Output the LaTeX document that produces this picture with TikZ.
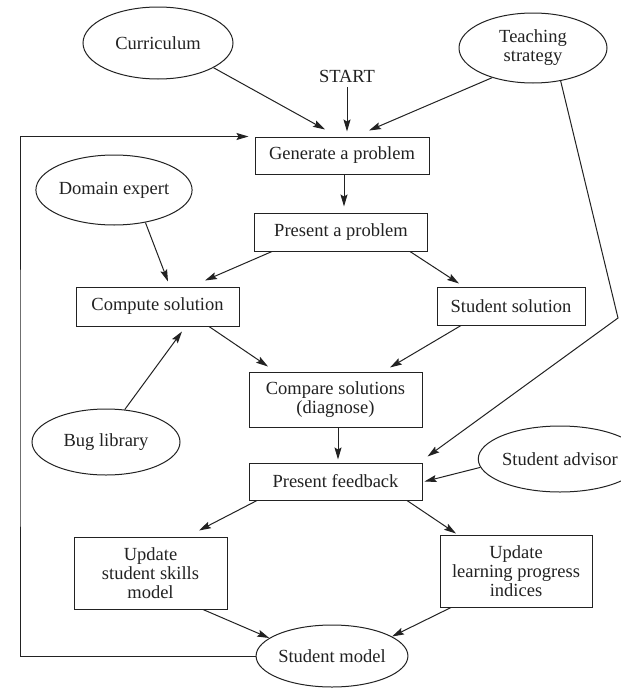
\documentclass[tikz,border=0pt]{standalone}
\usepackage{fontspec}
\setmainfont{Liberation Serif}
\usetikzlibrary{shapes.geometric,arrows.meta}
\definecolor{ink}{HTML}{222222}
\begin{document}
\begin{tikzpicture}[x=1pt,y=-1pt,
  every node/.style={text=ink, font=\fontsize{18.5}{19}\selectfont},
  box/.style={draw=ink, rectangle, inner sep=0pt, align=center, line width=1pt},
  oval/.style={draw=ink, ellipse, inner sep=0pt, align=center, line width=1pt},
  arr/.style={draw=ink, line width=1pt, -{Stealth[length=12pt,width=7pt,inset=2pt]}},
  plain/.style={draw=ink, line width=1pt}]
\fill[white] (0,0) rectangle (621,688);
\useasboundingbox (0,0) rectangle (621,688);

% process boxes
\node[box, minimum width=174pt, minimum height=37pt] (gen) at (342,155.5) {Generate a problem};
\node[box, minimum width=173pt, minimum height=38pt] (pres) at (341,232) {Present a problem};
\node[box, minimum width=163pt, minimum height=39pt] (comp) at (157.5,306.5) {Compute solution};
\node[box, minimum width=148pt, minimum height=38pt] (stud) at (511,306) {Student solution};
\node[box, minimum width=173pt, minimum height=55pt] (cmp) at (335.5,399.5) {Compare solutions\\(diagnose)};
\node[box, minimum width=173pt, minimum height=37pt] (fb) at (335.5,481.5) {Present feedback};
\node[box, minimum width=153pt, minimum height=72pt] (sk) at (150.5,573) {Update\\student skills\\model};
\node[box, minimum width=152pt, minimum height=72pt] (lp) at (516,571) {Update\\learning progress\\indices};

% knowledge sources
\node[oval, minimum width=150pt, minimum height=72pt] (cur) at (158,43) {Curriculum};
\node[oval, minimum width=148pt, minimum height=70pt] (teach) at (533,48) {Teaching\\strategy};
\node[oval, minimum width=149pt, minimum height=70pt] (dom) at (114,190) {Domain expert};
\node[oval, minimum width=148pt, minimum height=66pt] (bug) at (106,442) {Bug library};
\node[oval, minimum width=146pt, minimum height=66pt] (adv) at (560,459) {Student advisor};
\node[oval, minimum width=146pt, minimum height=62pt] (sm) at (332,656) {Student model};

\node[inner sep=0pt] (start) at (347,76) {START};

\coordinate (bend) at (618,318);
\coordinate (loopx) at (20,400);

% connectors
\draw[arr] (cur.-24) -- ([xshift=-17pt,yshift=7pt]gen.north);
\draw[arr] ([yshift=-5pt]start.south) -- ([xshift=5pt,yshift=5pt]gen.north);
\draw[arr] (teach.216) -- ([xshift=27pt,yshift=6pt]gen.north);
\draw[arr] ([xshift=2pt]gen.south) -- ([xshift=3pt,yshift=6pt]pres.north);
\draw[arr] ([xshift=-69pt]pres.south) -- ([xshift=47.5pt,yshift=6pt]comp.north);
\draw[arr] ([xshift=69pt]pres.south) -- ([xshift=-52pt,yshift=3pt]stud.north);
\draw[arr] (dom.-46) -- ([xshift=10.5pt,yshift=5pt]comp.north);
\draw[arr] (bug.60) -- ([xshift=24.5pt,yshift=-5pt]comp.south);
\draw[arr] ([xshift=51.5pt]comp.south) -- ([xshift=-67.5pt,yshift=5pt]cmp.north);
\draw[arr] ([xshift=-50pt]stud.south) -- ([xshift=54.5pt,yshift=4pt]cmp.north);
\draw[arr] ([xshift=2.5pt]cmp.south) -- ([xshift=2.5pt,yshift=3pt]fb.north);
\draw[arr] (teach.-50) -- (bend) -- ([xshift=5pt,yshift=6pt]fb.north east);
\draw[arr] (adv.186) -- ([xshift=2pt]fb.east);
\draw[arr] ([xshift=-78.5pt]fb.south) -- ([xshift=48.5pt,yshift=6pt]sk.north);
\draw[arr] ([xshift=71.5pt]fb.south) -- ([xshift=-60pt,yshift=1pt]lp.north);
\draw[arr] ([xshift=52.5pt]sk.south) -- (sm.164);
\draw[arr] ([xshift=-65pt]lp.south) -- (sm.18);
\draw[arr] (sm.west) -| (loopx) |- ([xshift=-6pt]gen.north west);
\end{tikzpicture}
\end{document}
